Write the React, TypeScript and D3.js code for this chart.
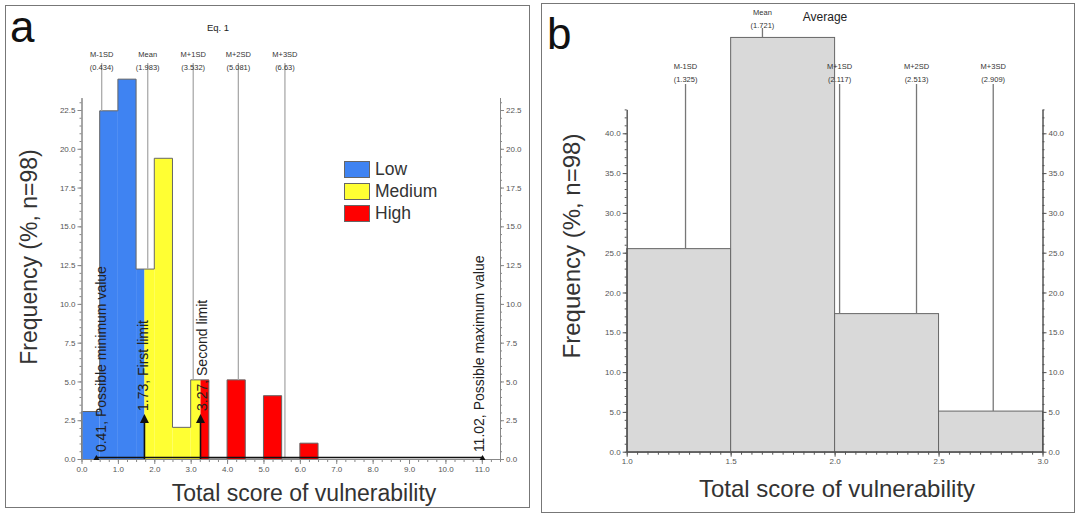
import React, { useEffect, useRef } from 'react'
import * as d3 from 'd3'

const W = 1078
const H = 515
const FONT = '"Liberation Sans", Arial, sans-serif'
const N = 98

// ---- panel a : Eq. 1 ----
const binStartsA = [0, 0.5, 1, 1.5, 2, 2.5, 3, 3.5, 4, 4.5, 5, 5.5, 6]
const countsA = [3, 22, 24, 12, 19, 2, 5, 0, 5, 0, 4, 0, 1]
const limitsA = [1.73, 3.27]
const classNames = ['Low', 'Medium', 'High']
const classColors = ['#3F83F2', '#FFFF33', '#FF0000']
const sdNames = ['M-1SD', 'Mean', 'M+1SD', 'M+2SD', 'M+3SD']
const sdLabelsA = ['(0.434)', '(1.983)', '(3.532)', '(5.081)', '(6.63)']
const sdPosA = [0.555, 1.82, 3.07, 4.31, 5.59]
const annotValues = [0.41, 1.73, 3.27, 11.02]
const annotTexts = ['0.41, Possible minimum value', '1.73, First limit', '3.27, Second limit', '11.02, Possible maximum value']
const annotHeights = [0.25, 2.9, 2.9, 0.25]
const xTicksA = [0, 1, 2, 3, 4, 5, 6, 7, 8, 9, 10, 11]
const yTicksA = [0, 2.5, 5, 7.5, 10, 12.5, 15, 17.5, 20, 22.5]

// ---- panel b : Average ----
const binStartsB = [1, 1.5, 2, 2.5]
const countsB = [25, 51, 17, 5]
const sdLabelsB = ['(1.325)', '(1.721)', '(2.117)', '(2.513)', '(2.909)']
const sdPosB = [1.283, 1.653, 2.024, 2.394, 2.763]
const xTicksB = [1, 1.5, 2, 2.5, 3]
const yTicksB = [0, 5, 10, 15, 20, 25, 30, 35, 40]

const pct = (c: number) => (c / N) * 100

function heightAt(v: number, starts: number[], counts: number[], w: number) {
  const i = starts.findIndex((s) => v >= s && v < s + w)
  return i < 0 ? 0 : pct(counts[i])
}

function styleAxis(g: any, color: string) {
  g.select('.domain').attr('stroke', color)
  g.selectAll('.tick line').attr('stroke', color)
  g.selectAll('.tick text').attr('fill', '#555').attr('font-size', 8).attr('font-family', FONT)
}

function axes(root: any, x: any, y: any, o: any) {
  const fmt = d3.format('.1f')
  const [x0, x1] = x.range()
  const y0 = y.range()[0]
  const mk = (axis: any, tr: string, vals: number[], size: number, lab: boolean) => {
    const g = root.append('g').attr('transform', tr)
    g.call(axis.tickValues(vals).tickSize(size).tickSizeOuter(0).tickPadding(2)
      .tickFormat(lab ? fmt : () => ''))
    styleAxis(g, o.color)
    return g
  }
  mk(d3.axisBottom(x), `translate(0,${y0})`, o.xMinor, 3, false)
  mk(d3.axisBottom(x), `translate(0,${y0})`, o.xMajor, 5, true)
  mk(d3.axisLeft(y), `translate(${x0},0)`, o.yMinor, 2, false)
  mk(d3.axisLeft(y), `translate(${x0},0)`, o.yMajor, 4, true)
  mk(d3.axisRight(y), `translate(${x1},0)`, o.yMinor, 2, false)
  mk(d3.axisRight(y), `translate(${x1},0)`, o.yMajor, 4, true)
}

function sdMarks(root: any, x: any, y: any, pos: number[], labels: string[], heights: number[], nameY: number[], lineTop: number[], color: string) {
  pos.forEach((p, i) => {
    root.append('line')
      .attr('x1', x(p)).attr('x2', x(p))
      .attr('y1', lineTop[i]).attr('y2', y(heights[i]))
      .attr('stroke', color).attr('stroke-width', 1.3)
    root.append('text').attr('x', x(p)).attr('y', nameY[i])
      .attr('text-anchor', 'middle').attr('font-size', 7.5).attr('fill', '#333').text(sdNames[i])
    root.append('text').attr('x', x(p)).attr('y', nameY[i] + 13)
      .attr('text-anchor', 'middle').attr('font-size', 7.5).attr('fill', '#333').text(labels[i])
  })
}

function drawPanelA(root: any) {
  root.attr('font-family', FONT)
  root.append('rect').attr('x', 5.5).attr('y', 5.5).attr('width', 524).attr('height', 502)
    .attr('fill', '#fff').attr('stroke', '#777')

  const x = d3.scaleLinear().domain([0, 11.5]).range([81.5, 500])
  const y = d3.scaleLinear().domain([0, 23.3]).range([459, 97.6])
  const bw = 0.5

  // class-coloured fill of the histogram
  const bounds = [0, limitsA[0], limitsA[1], 11.5]
  binStartsA.forEach((s, i) => {
    if (!countsA[i]) return
    classColors.forEach((c, k) => {
      const lo = Math.max(s, bounds[k])
      const hi = Math.min(s + bw, bounds[k + 1])
      if (hi <= lo) return
      root.append('rect').attr('x', x(lo)).attr('y', y(pct(countsA[i])))
        .attr('width', x(hi) - x(lo)).attr('height', y(0) - y(pct(countsA[i])))
        .attr('fill', c)
    })
  })

  // step outline of the histogram
  const pts: [number, number][] = [[binStartsA[0], 0]]
  binStartsA.forEach((s, i) => {
    pts.push([s, pct(countsA[i])], [s + bw, pct(countsA[i])])
  })
  pts.push([binStartsA[binStartsA.length - 1] + bw, 0])
  root.append('path')
    .attr('d', d3.line().x((d: any) => x(d[0])).y((d: any) => y(d[1]))(pts))
    .attr('fill', 'none').attr('stroke', '#666').attr('stroke-width', 1)

  axes(root, x, y, {
    color: '#888',
    xMajor: xTicksA,
    xMinor: d3.range(0, 11.51, 0.25),
    yMajor: yTicksA,
    yMinor: d3.range(0, 23.01, 0.5),
  })

  sdMarks(root, x, y, sdPosA, sdLabelsA,
    sdPosA.map((p) => heightAt(p, binStartsA, countsA, bw)),
    sdPosA.map(() => 57), sdPosA.map(() => 63), '#aaa')

  root.append('text').attr('x', 218).attr('y', 31).attr('text-anchor', 'middle')
    .attr('font-size', 9.5).attr('fill', '#222').text('Eq. 1')

  // annotations
  const nudge = [5, -1, 1.5, -4]
  root.append('line').attr('x1', x(annotValues[0])).attr('x2', x(annotValues[3]))
    .attr('y1', y(0.1)).attr('y2', y(0.1)).attr('stroke', '#111').attr('stroke-width', 1.5)
  annotValues.forEach((v, i) => {
    const tip = y(annotHeights[i])
    const big = annotHeights[i] > 1
    const hw = big ? 4.5 : 3
    const hh = big ? 9 : 5
    if (big) {
      root.append('line').attr('x1', x(v)).attr('x2', x(v)).attr('y1', y(0)).attr('y2', tip + hh - 1)
        .attr('stroke', '#111').attr('stroke-width', 1.6)
    }
    root.append('path')
      .attr('d', `M${x(v)},${tip}L${x(v) - hw},${tip + hh}L${x(v) + hw},${tip + hh}Z`)
      .attr('fill', '#111')
    root.append('text')
      .attr('transform', `translate(${x(v) + nudge[i]},${tip - 3}) rotate(-90)`)
      .attr('dominant-baseline', 'central')
      .attr('font-size', 14).attr('fill', '#222').text(annotTexts[i])
  })

  // legend
  classNames.forEach((n, k) => {
    root.append('rect').attr('x', 344.5).attr('y', 161.5 + k * 22).attr('width', 25).attr('height', 16)
      .attr('fill', classColors[k]).attr('stroke', '#666')
    root.append('text').attr('x', 375).attr('y', 175 + k * 22).attr('font-size', 17.5)
      .attr('fill', '#333').text(n)
  })

  root.append('text').attr('transform', 'translate(37,257) rotate(-90)').attr('text-anchor', 'middle')
    .attr('font-size', 23).attr('fill', '#333').text('Frequency (%, n=98)')
  root.append('text').attr('x', 304).attr('y', 501).attr('text-anchor', 'middle')
    .attr('font-size', 23).attr('fill', '#333').text('Total score of vulnerability')
  root.append('text').attr('x', 10).attr('y', 42).attr('font-size', 44).attr('fill', '#111').text('a')
}

function drawPanelB(root: any) {
  root.attr('font-family', FONT)
  root.append('rect').attr('x', 541.5).attr('y', 3.5).attr('width', 533).attr('height', 509)
    .attr('fill', '#fff').attr('stroke', '#777')

  const x = d3.scaleLinear().domain([1, 3]).range([626.7, 1042.5])
  const y = d3.scaleLinear().domain([0, 43]).range([451.7, 109.4])
  const bw = 0.5

  root.selectAll('rect.binB').data(binStartsB).enter()
    .append('rect').attr('class', 'binB')
    .attr('x', (s: number) => x(s))
    .attr('y', (_: number, i: number) => y(pct(countsB[i])))
    .attr('width', x(1 + bw) - x(1))
    .attr('height', (_: number, i: number) => y(0) - y(pct(countsB[i])))
    .attr('fill', '#D9D9D9').attr('stroke', '#666').attr('stroke-width', 1)

  axes(root, x, y, {
    color: '#555',
    xMajor: xTicksB,
    xMinor: d3.range(1, 3.001, 0.05),
    yMajor: yTicksB,
    yMinor: d3.range(0, 43.01, 1),
  })

  const hs = sdPosB.map((p) => heightAt(p, binStartsB, countsB, bw))
  const maxH = d3.max(hs) as number
  sdMarks(root, x, y, sdPosB, sdLabelsB, hs,
    hs.map((h) => (h === maxH ? 15 : 69)), hs.map((h) => (h === maxH ? 28 : 84)), '#777')

  root.append('text').attr('x', 825).attr('y', 21).attr('text-anchor', 'middle')
    .attr('font-size', 12).attr('fill', '#222').text('Average')

  root.append('text').attr('transform', 'translate(580,246) rotate(-90)').attr('text-anchor', 'middle')
    .attr('font-size', 24).attr('fill', '#333').text('Frequency (%, n=98)')
  root.append('text').attr('x', 837).attr('y', 497).attr('text-anchor', 'middle')
    .attr('font-size', 24).attr('fill', '#333').text('Total score of vulnerability')
  root.append('text').attr('x', 547).attr('y', 49).attr('font-size', 44).attr('fill', '#111').text('b')
}

export default function App() {
  const ref = useRef<SVGSVGElement>(null)
  useEffect(() => {
    const svg = d3.select(ref.current)
    svg.selectAll('*').remove()
    drawPanelA(svg.append('g'))
    drawPanelB(svg.append('g'))
  }, [])
  return (
    <svg
      ref={ref}
      width={W}
      height={H}
      style={{ position: 'absolute', left: 0, top: 0, background: '#fff' }}
    />
  )
}
